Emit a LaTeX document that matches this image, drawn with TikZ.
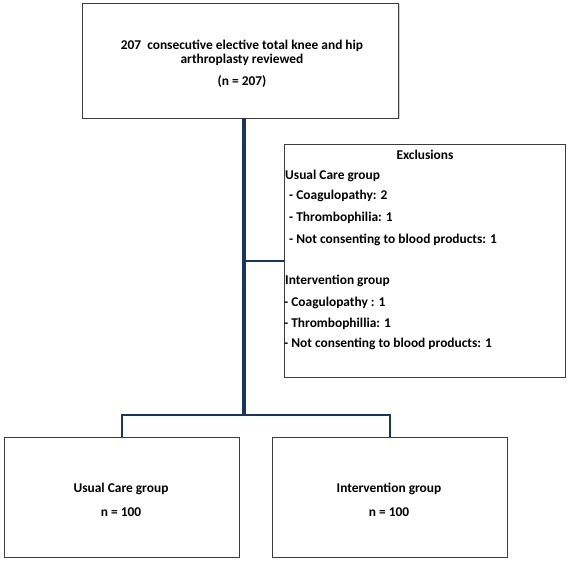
\documentclass[tikz,border=0pt]{standalone}
\usepackage{fontspec}
\setmainfont{Carlito}
\usetikzlibrary{shadows}
\definecolor{navy}{RGB}{23,55,94}
\definecolor{boxline}{RGB}{60,60,60}
\begin{document}
\begin{tikzpicture}[x=1pt,y=-1pt,
  box/.style={draw=boxline,line width=0.9pt,fill=white,inner sep=0pt,
    drop shadow={shadow xshift=1.2pt,shadow yshift=-1.2pt,opacity=0.35}},
  txt/.style={font=\fontsize{13.4}{16}\selectfont\bfseries,inner sep=0pt},
  main/.style={draw=navy,line width=3.2pt},
  branch/.style={draw=navy,line width=2pt}]
\useasboundingbox (0,0) rectangle (567,562);
% boxes
\node[box,minimum width=316pt,minimum height=115pt] (top) at (240.5,60.5) {};
\node[box,minimum width=281pt,minimum height=233pt] (excl) at (424.5,260.5) {};
\node[box,minimum width=235pt,minimum height=120pt] (lb) at (121.5,497) {};
\node[box,minimum width=235pt,minimum height=120pt] (rb) at (389.5,497) {};
% connectors
\coordinate (j1) at (244,260.5);
\coordinate (j2) at (244,415);
\coordinate (topb) at (244,118);
\draw[branch] (lb.north) |- (j2) -| (rb.north);
\draw[main] (topb) -- (j2);
\draw[branch] (j1) -- (excl.west);
% top text
\node[txt,anchor=base] (t1) at (242,49) {207\ \ consecutive elective total knee and hip};
\node[txt,anchor=base] (t2) at (242,63) {arthroplasty reviewed};
\node[txt,anchor=base] (t3) at (242,85) {(n = 207)};
% exclusions text
\node[txt,anchor=base] (e0) at (425,159) {Exclusions};
\node[txt,anchor=base west] (e1) at (285,179) {Usual Care group};
\node[txt,anchor=base west] (e2) at (286,199) {\ - Coagulopathy: 2};
\node[txt,anchor=base west] (e3) at (286,221) {\ - Thrombophilia: 1};
\node[txt,anchor=base west] (e4) at (286,243) {\ - Not consenting to blood products: 1};
\node[txt,anchor=base west] (e5) at (285,284) {Intervention group};
\node[txt,anchor=base west] (e6) at (284,306) {- Coagulopathy : 1};
\node[txt,anchor=base west] (e7) at (284,327) {- Thrombophillia: 1};
\node[txt,anchor=base west] (e8) at (284,347) {- Not consenting to blood products: 1};
% bottom text
\node[txt,anchor=base] (l1) at (121,492) {Usual Care group};
\node[txt,anchor=base] (l2) at (121,516) {n = 100};
\node[txt,anchor=base] (r1) at (389,492) {Intervention group};
\node[txt,anchor=base] (r2) at (389,516) {n = 100};
\end{tikzpicture}
\end{document}
